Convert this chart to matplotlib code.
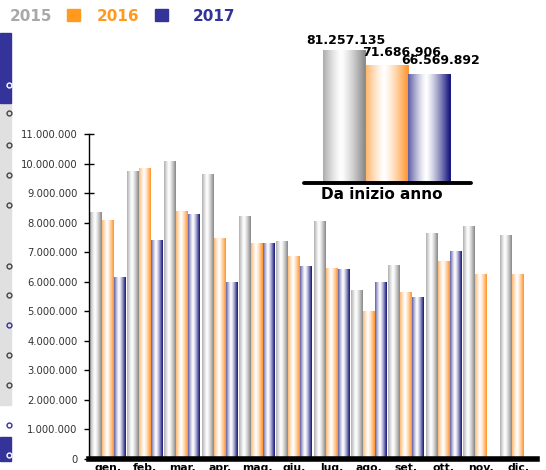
import matplotlib
matplotlib.use("Agg")
import matplotlib.pyplot as plt
import numpy as np
from matplotlib.patches import Rectangle
from matplotlib.lines import Line2D
from matplotlib.colors import to_rgb

# dati mensili
mesi = ["gen.", "feb.", "mar.", "apr.", "mag.", "giu.",
        "lug.", "ago.", "set.", "ott.", "nov.", "dic."]
v2015 = [8.33, 9.73, 10.07, 9.63, 8.20, 7.35, 8.03, 5.71, 6.56, 7.62, 7.86, 7.58]
v2016 = [8.06, 9.83, 8.37, 7.45, 7.31, 6.84, 6.46, 5.00, 5.65, 6.67, 6.26, 6.26]
v2017 = [6.16, 7.38, 8.27, 5.99, 7.31, 6.50, 6.43, 5.99, 5.48, 7.04, None, None]

# totali da inizio anno
anni = ["2015", "2016", "2017"]
totali = [81257135, 71686906, 66569892]
totali_txt = ["81.257.135", "71.686.906", "66.569.892"]

colori = ["#8c8c8c", "#ff9933", "#1c1c80"]
colori_legenda = ["#a8a8a8", "#ff9a1f", "#333399"]

W, H = 546, 470
fig = plt.figure(figsize=(W / 100, H / 100), dpi=100)


def fx(px):
    return px / W


def fy(py):
    return 1 - py / H


def gradiente(base):
    t = np.linspace(0, 1, 64)
    f = np.clip(np.abs(t - 0.42) / 0.55, 0, 1) ** 1.3
    b = np.array(to_rgb(base))
    img = (1 - f)[:, None] * np.ones(3) + f[:, None] * b
    return img[None, :, :]


def barra(ax, x0, x1, h, base):
    ax.imshow(gradiente(base), extent=[x0, x1, 0, h], aspect="auto",
              interpolation="bilinear", zorder=2)


# grafico principale
ax = fig.add_axes([fx(89), fy(459), fx(537 - 89), fy(134) - fy(459)])
w = 0.32
serie = [v2015, v2016, v2017]
for j, vals in enumerate(serie):
    for i, v in enumerate(vals):
        if v is None:
            continue
        x0 = i - 0.48 + j * w
        barra(ax, x0, x0 + w, v * 1e6, colori[j])

ax.set_xlim(-0.5, 11.5)
ax.set_ylim(0, 11e6)
yt = np.arange(0, 12) * 1e6
ax.set_yticks(yt)
ax.set_yticklabels(["0"] + [f"{int(v/1e6)}.000.000" for v in yt[1:]],
                   fontsize=7.2, color="#333333")
ax.tick_params(axis="y", length=6.5, width=1, direction="inout", pad=5)
ax.set_xticks(range(12))
ax.set_xticklabels(mesi, fontsize=7.8, fontweight="bold")
ax.tick_params(axis="x", length=0, pad=3)
for s in ["top", "right"]:
    ax.spines[s].set_visible(False)
ax.spines["left"].set_linewidth(1.0)
ax.spines["bottom"].set_linewidth(4.0)
ax.spines["bottom"].set_zorder(5)

# riquadro "Da inizio anno"
px_per_unit = 42.7
xl0 = -0.5 - (323 - 304) / px_per_unit
xl1 = 2.5 + (471 - 451) / px_per_unit
scala = (182.7 - 50) / totali[0]
ymax = (182.7 - 30) / scala
ins = fig.add_axes([fx(304), fy(182.7), fx(471 - 304), fy(30) - fy(182.7)])
for j, v in enumerate(totali):
    barra(ins, j - 0.5, j + 0.5, v, colori[j])
ins.set_xlim(xl0, xl1)
ins.set_ylim(0, ymax)
ins.axis("off")
ins.plot([0, 1], [0, 0], transform=ins.transAxes, color="black",
         lw=2.8, solid_capstyle="round", clip_on=False, zorder=5)
dx = [0.04, 0.35, 0.26]
dy = [3.5e6, 5.7e6, 6.0e6]
for j, v in enumerate(totali):
    ins.text(j + dx[j], v + dy[j], totali_txt[j], ha="center", va="baseline",
             fontsize=9, fontweight="bold", color="black", zorder=6)
fig.text(fx(382), fy(199), "Da inizio anno", ha="center", va="baseline",
         fontsize=11, fontweight="bold", color="black")

# legenda in alto
fig.text(fx(10), fy(21), anni[0], fontsize=11, fontweight="bold",
         color=colori_legenda[0], va="baseline")
fig.text(fx(97), fy(21), anni[1], fontsize=11, fontweight="bold",
         color=colori_legenda[1], va="baseline")
fig.text(fx(193), fy(21), anni[2], fontsize=11, fontweight="bold",
         color=colori_legenda[2], va="baseline")
fig.patches.append(Rectangle((fx(67), fy(21)), fx(13), fy(9) - fy(21),
                             transform=fig.transFigure, color=colori_legenda[1]))
fig.patches.append(Rectangle((fx(155), fy(21)), fx(13), fy(9) - fy(21),
                             transform=fig.transFigure, color=colori_legenda[2]))

# striscia a sinistra (pannello tagliato)
fig.patches.append(Rectangle((0, fy(405)), fx(11), fy(103) - fy(405),
                             transform=fig.transFigure, color="#e0e0e0"))
fig.patches.append(Rectangle((0, fy(103)), fx(11), fy(33) - fy(103),
                             transform=fig.transFigure, color="#333399"))
fig.patches.append(Rectangle((0, fy(461)), fx(11), fy(437) - fy(461),
                             transform=fig.transFigure, color="#333399"))
for py, c in [(85, "white"), (113, "#444444"), (145, "#444444"), (175, "#444444"),
              (205, "#444444"), (266, "#444444"), (295, "#444444"), (325, "#333399"),
              (355, "#444444"), (385, "#444444"), (425, "#333399"), (455, "white")]:
    fig.add_artist(Line2D([fx(9)], [fy(py)], transform=fig.transFigure,
                          marker="o", ms=3.5, mfc="none", mec=c, mew=1.0, ls="none"))

fig.savefig("out.png", dpi=100)
